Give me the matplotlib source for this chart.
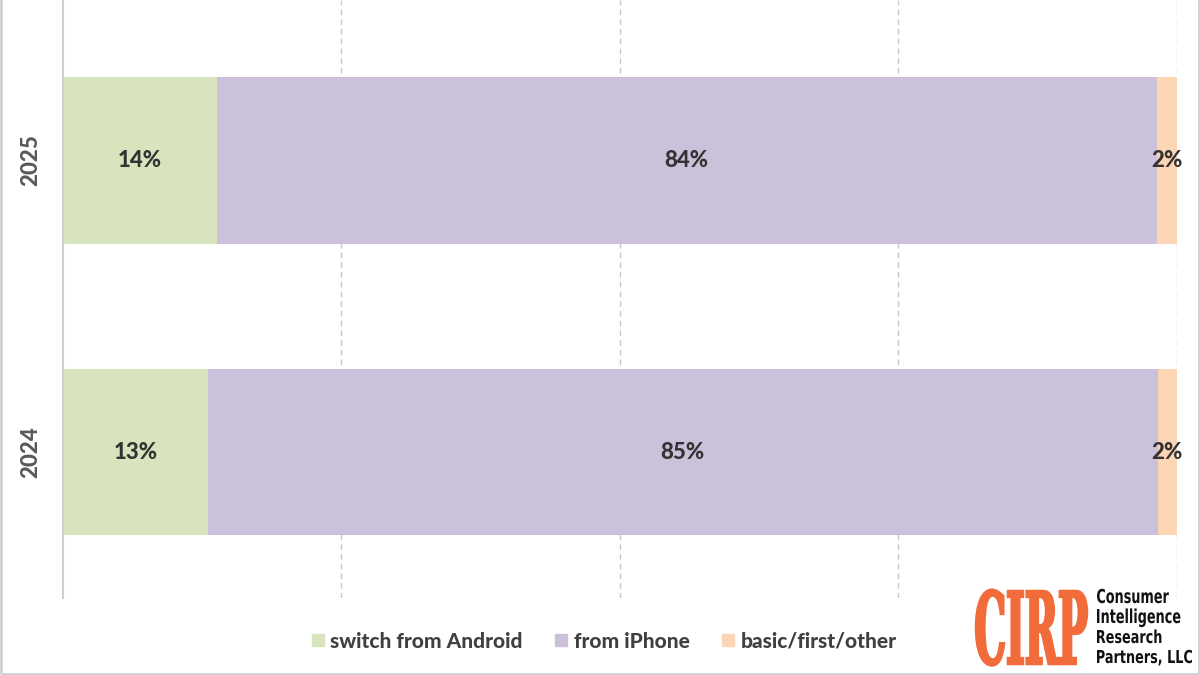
import matplotlib.pyplot as plt
from matplotlib.patches import Rectangle, PathPatch
from matplotlib.lines import Line2D
from matplotlib.textpath import TextPath
from matplotlib.font_manager import FontProperties
from matplotlib.transforms import Affine2D

# --- data ---
years = ['2024', '2025']
android = [13.0, 13.8]
iphone = [85.3, 84.4]
other = [1.7, 1.8]
series_names = ['switch from Android', 'from iPhone', 'basic/first/other']
colors = ['#D7E4BD', '#CCC1DA', '#FCD5B5']

plt.rcParams['font.family'] = ['Lato', 'DejaVu Sans']

fig = plt.figure(figsize=(12, 6.75), dpi=100)
ax = fig.add_axes([0.0525, 0.114, 0.928, 0.886])

ypos = range(len(years))
left = [0.0] * len(years)
for vals, col in zip([android, iphone, other], colors):
    bars = ax.barh(ypos, vals, left=left, height=0.57, color=col, zorder=2)
    for b, v in zip(bars, vals):
        ax.text(b.get_x() + b.get_width() / 2, b.get_y() + b.get_height() / 2,
                f"{v:.0f}%", ha='center', va='center', fontsize=16,
                fontweight='black', color='#333333', zorder=3)
    left = [l + v for l, v in zip(left, vals)]

ax.set_xlim(0, 100)
ax.set_ylim(-0.5, 1.55)
ax.set_xticks([25, 50, 75, 100])
ax.set_xticklabels([])
ax.tick_params(axis='x', length=0)
ax.grid(axis='x', color='#C8C8C8', linestyle=(0, (4, 3)), linewidth=1, zorder=0)
ax.set_yticks(list(ypos))
ax.set_yticklabels(years, rotation=90, va='center', fontsize=16,
                   fontweight='black', color='#595959')
ax.tick_params(axis='y', length=0, pad=16)
for s in ['top', 'right', 'bottom']:
    ax.spines[s].set_visible(False)
ax.spines['left'].set_color('#D0D0D0')
ax.spines['left'].set_linewidth(1.5)

handles = [Line2D([], [], marker='s', linestyle='', markersize=9,
                  markerfacecolor=c, markeredgecolor=c) for c in colors]
fig.legend(handles, series_names, loc='center', bbox_to_anchor=(0.502, 0.05),
           ncol=3, frameon=False, handletextpad=0.15, handlelength=0.9,
           columnspacing=1.4, labelcolor='#404040',
           prop={'weight': 'black', 'size': 15})

# --- logo, drawn as condensed text paths in pixel coordinates ---
lax = fig.add_axes([0, 0, 1, 1])
lax.set_xlim(0, 1200)
lax.set_ylim(675, 0)
lax.axis('off')


def put_text(s, x0, top, bottom, prop, color, width=None, sx=None, lw=0):
    tp = TextPath((0, 0), s, size=100, prop=prop)
    bb = tp.get_extents()
    cap = TextPath((0, 0), 'H', size=100, prop=prop).get_extents().height
    sy = (bottom - top) / cap
    if sx is None:
        sx = width / bb.width
    tr = Affine2D().translate(-bb.x0, 0).scale(sx, -sy).translate(x0, bottom)
    lax.add_patch(PathPatch(tr.transform_path(tp), facecolor=color,
                            edgecolor=color, lw=lw))
    return sx


put_text('CIRP', 976, 591, 664, FontProperties(family='DejaVu Serif', weight='bold'),
         '#F26B3A', width=111, lw=1.8)
small = FontProperties(family='DejaVu Sans', weight='bold')
sx = put_text('Partners, LLC', 1097, 650, 663, small, '#111111', width=95)
put_text('Consumer', 1097, 589, 603, small, '#111111', sx=sx)
put_text('Intelligence', 1097, 609, 623, small, '#111111', sx=sx)
put_text('Research', 1097, 630, 643, small, '#111111', sx=sx)

# outer border
fig.patches.append(Rectangle((0.001, 0.002), 0.998, 1.2, transform=fig.transFigure,
                             fill=False, edgecolor='#D0D0D0', linewidth=2))

fig.savefig('out.png', dpi=100)
